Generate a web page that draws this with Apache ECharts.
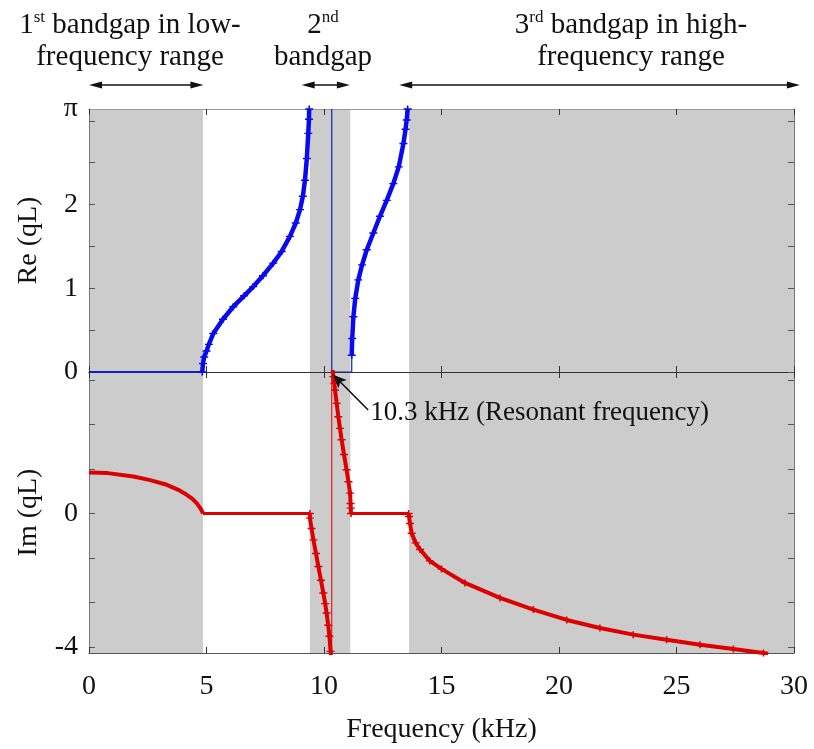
<!DOCTYPE html>
<html><head><meta charset="utf-8">
<script src="https://cdn.jsdelivr.net/npm/echarts@6/dist/echarts.min.js"></script>
<style>html,body{margin:0;padding:0;background:#fff}#c{width:814px;height:749px}</style>
</head><body><div id="c"></div>
<script>
// ---------------- data ----------------
const gapBands = [[0, 4.85], [9.4, 11.12], [13.62, 30]];
const headerSpans = [[0, 4.87], [9.05, 11.1], [13.2, 30.25]];
const xTickInterval = 5;
const reTicks = [0, 0.5, 1, 1.5, 2, 2.5, 3];
const reLabels = [0, 1, 2, Math.PI];
const imTicks = [-4, -8 / 3, -4 / 3, 0, 4 / 3, 8 / 3, 4];
const imLabels = [-4, 0];
const imRange = [-4.18, 4.24];

const reZeroA = [[0, 0], [4.82, 0]];
const reCurveA = [[4.82, 0], [4.85, 0.1], [4.9, 0.18], [5.0, 0.25], [5.1, 0.33], [5.29, 0.46], [5.7, 0.63], [6.14, 0.78], [6.6, 0.91], [6.99, 1.02], [7.4, 1.15], [7.84, 1.30], [8.2, 1.44], [8.55, 1.62], [8.8, 1.78], [8.98, 1.94], [9.1, 2.1], [9.19, 2.29], [9.27, 2.55], [9.33, 2.85], [9.36, 3.02], [9.37, Math.PI]];
const reResonance = [[10.33, Math.PI], [10.33, 0], [11.18, 0], [11.18, 0.2]];
const reCurveB = [[11.18, 0.2], [11.2, 0.4], [11.25, 0.66], [11.33, 0.88], [11.46, 1.10], [11.62, 1.28], [11.82, 1.46], [12.1, 1.66], [12.38, 1.86], [12.67, 2.05], [12.95, 2.25], [13.18, 2.45], [13.38, 2.73], [13.47, 2.9], [13.52, 3.01], [13.56, Math.PI]];

const imCurveA = [[0, 1.23], [0.8, 1.21], [1.89, 1.11], [2.6, 1.0], [3.31, 0.86], [3.8, 0.71], [4.16, 0.56], [4.4, 0.44], [4.58, 0.31], [4.72, 0.18], [4.8, 0.08], [4.85, 0]];
const imZeroA = [[4.85, 0], [9.4, 0]];
const imCurveB = [[9.4, 0], [9.4, -0.14], [9.47, -0.45], [9.55, -0.79], [9.66, -1.2], [9.76, -1.59], [9.87, -2.0], [9.97, -2.38], [10.05, -2.7], [10.11, -2.98], [10.18, -3.35], [10.23, -3.68], [10.28, -4.13], [10.30, -4.3]];
const imResonance = [[10.33, -4.18], [10.33, 4.24]];
const imCurveC = [[10.37, 4.3], [10.40, 4.10], [10.44, 3.9], [10.47, 3.70], [10.54, 3.3], [10.61, 2.90], [10.68, 2.55], [10.75, 2.21], [10.85, 1.77], [10.96, 1.31], [11.04, 0.95], [11.11, 0.61], [11.13, 0.3], [11.14, 0.16], [11.15, 0]];
const imZeroB = [[11.15, 0], [13.6, 0]];
const imCurveD = [[13.6, 0], [13.62, -0.09], [13.66, -0.3], [13.73, -0.59], [13.9, -0.88], [14.09, -1.08], [14.5, -1.42], [15.0, -1.66], [16.0, -2.08], [17.49, -2.53], [18.91, -2.88], [20.33, -3.19], [21.74, -3.43], [23.16, -3.63], [24.58, -3.78], [26.0, -3.93], [27.42, -4.06], [28.7, -4.18], [28.9, -4.2]];

const annotTail = [11.88, 3.1];
const annotTip = [10.4, 4.15];
const annotText = '10.3 kHz (Resonant frequency)';
const headerTexts = [
  '{a|1}{s|st}{a| bandgap in low-}\n{a|frequency range}',
  '{a|2}{s|nd}\n{a|bandgap}',
  '{a|3}{s|rd}{a| bandgap in high-}\n{a|frequency range}'
];
// --------------------------------------

const FONT = '"Liberation Serif", "Times New Roman", serif';
const BLUE = '#0a0af0', RED = '#dd0000', BAND = '#cccccc';
const PLUS = 'path://M0,4L10,4L10,6L0,6Z M4,0L6,0L6,10L4,10Z';

const chart = echarts.init(document.getElementById('c'), null, {renderer: 'canvas'});

function xAx(grid, pos, color, showLabel) {
  return {
    type: 'value', gridIndex: grid, position: pos, min: 0, max: 30, interval: xTickInterval, z: 2,
    axisLine: {onZero: false, lineStyle: {color: color, width: 1}},
    axisTick: {inside: true, length: 6, lineStyle: {color: '#333'}},
    axisLabel: {show: showLabel, fontFamily: FONT, fontSize: 28, color: '#111', margin: 20, showMinLabel: true, showMaxLabel: true},
    splitLine: {show: false}
  };
}
function yAx(grid, pos, min, max, ticks, labels, name) {
  const o = {
    type: 'value', gridIndex: grid, position: pos, min: min, max: max, z: 2,
    axisLine: {onZero: false, lineStyle: {color: '#777', width: 1}},
    axisTick: {inside: true, length: 6, customValues: ticks, lineStyle: {color: '#555'}},
    axisLabel: {show: !!labels, customValues: labels || undefined, fontFamily: FONT, fontSize: 28, color: '#111', margin: 11,
      formatter: v => Math.abs(v - Math.PI) < 1e-6 ? 'π' : String(Math.round(v))},
    splitLine: {show: false}
  };
  if (name) {
    o.name = name; o.nameLocation = 'middle'; o.nameGap = 46; o.nameRotate = 90;
    o.nameTextStyle = {fontFamily: FONT, fontSize: 28, color: '#111'};
  }
  return o;
}

const xAxes = [xAx(0, 'bottom', '#333', false), xAx(0, 'top', '#999', false), xAx(1, 'bottom', '#555', true), xAx(1, 'top', '#333', false)];
xAxes[2].name = 'Frequency (kHz)';
xAxes[2].nameLocation = 'middle';
xAxes[2].nameGap = 63;
xAxes[2].nameTextStyle = {fontFamily: FONT, fontSize: 28, color: '#111'};

const yAxes = [
  yAx(0, 'left', 0, Math.PI, reTicks, reLabels, 'Re (qL)'),
  yAx(0, 'right', 0, Math.PI, reTicks, null, null),
  yAx(1, 'left', imRange[0], imRange[1], imTicks, imLabels, 'Im (qL)'),
  yAx(1, 'right', imRange[0], imRange[1], imTicks, null, null)
];

function bandSeries(xi, yi) {
  return {
    type: 'custom', xAxisIndex: xi, yAxisIndex: yi, z: 1, silent: true,
    data: gapBands, encode: {x: [0, 1]},
    renderItem: (params, api) => {
      const cs = params.coordSys;
      const x0 = api.coord([api.value(0), 0])[0];
      const x1 = api.coord([api.value(1), 0])[0];
      return {type: 'rect', shape: {x: x0, y: cs.y, width: x1 - x0, height: cs.height}, style: {fill: BAND}};
    }
  };
}
function lineS(data, xi, yi, color, width, marks) {
  return {
    type: 'line', xAxisIndex: xi, yAxisIndex: yi, data: data, z: 3,
    showSymbol: !!marks, symbol: PLUS, symbolSize: [8, 7],
    itemStyle: {color: color}, lineStyle: {color: color, width: width},
    silent: true, clip: true
  };
}

const series = [
  bandSeries(0, 0), bandSeries(2, 2),
  lineS(reZeroA, 0, 0, '#1020c0', 2, false),
  lineS(reCurveA, 0, 0, BLUE, 4.5, true),
  lineS(reResonance, 0, 0, '#1020c0', 1.2, false),
  lineS(reCurveB, 0, 0, BLUE, 4.5, true),
  lineS(imCurveA, 2, 2, RED, 4, false),
  lineS(imZeroA, 2, 2, RED, 3, false),
  lineS(imCurveB, 2, 2, RED, 4, true),
  Object.assign(lineS(imResonance, 2, 2, RED, 1, false), {
    markLine: {
      silent: true, symbol: ['none', 'arrow'], symbolSize: [9, 13], animation: false,
      lineStyle: {color: '#111', width: 1.6, type: 'solid'}, label: {show: false},
      data: [[{coord: annotTail}, {coord: annotTip}]]
    }
  }),
  lineS(imCurveC, 2, 2, RED, 4, true),
  lineS(imZeroB, 2, 2, RED, 3, false),
  lineS(imCurveD, 2, 2, RED, 4, true)
];

chart.setOption({
  animation: false,
  backgroundColor: '#fff',
  grid: [
    {left: 89, right: 20, top: 109, height: 263},
    {left: 89, right: 20, top: 372, height: 281}
  ],
  xAxis: xAxes,
  yAxis: yAxes,
  series: series
});

// annotations positioned from data coordinates
const g = [];
const arrowY = 85;
headerSpans.forEach(([a, b]) => {
  const x1 = chart.convertToPixel({xAxisIndex: 0}, a);
  const x2 = chart.convertToPixel({xAxisIndex: 0}, b);
  g.push({type: 'line', z: 50, shape: {x1: x1 + 4, y1: arrowY, x2: x2 - 4, y2: arrowY}, style: {stroke: '#111', lineWidth: 1.5}, silent: true});
  g.push({type: 'polygon', z: 50, shape: {points: [[x1, arrowY], [x1 + 13, arrowY - 3.5], [x1 + 13, arrowY + 3.5]]}, style: {fill: '#111'}, silent: true});
  g.push({type: 'polygon', z: 50, shape: {points: [[x2, arrowY], [x2 - 13, arrowY - 3.5], [x2 - 13, arrowY + 3.5]]}, style: {fill: '#111'}, silent: true});
});
const headerX = [130, 323, 631];
headerTexts.forEach((t, i) => {
  g.push({
    type: 'text', x: headerX[i], y: 9.5, z: 50, silent: true,
    style: {
      text: t, align: 'center', textAlign: 'center', verticalAlign: 'top', textVerticalAlign: 'top', fill: '#111',
      rich: {
        a: {fontFamily: FONT, fontSize: 29, lineHeight: 32, fill: '#111'},
        s: {fontFamily: FONT, fontSize: 17, lineHeight: 22, verticalAlign: 'top', fill: '#111'}
      }
    }
  });
});
const tail = chart.convertToPixel({xAxisIndex: 2, yAxisIndex: 2}, annotTail);
g.push({
  type: 'text', x: tail[0] + 2, y: tail[1] + 3, z: 50, silent: true,
  style: {text: annotText, fontFamily: FONT, fontSize: 27, fill: '#111', align: 'left', textAlign: 'left', verticalAlign: 'middle', textVerticalAlign: 'middle'}
});
chart.setOption({graphic: g});
</script>
</body></html>
